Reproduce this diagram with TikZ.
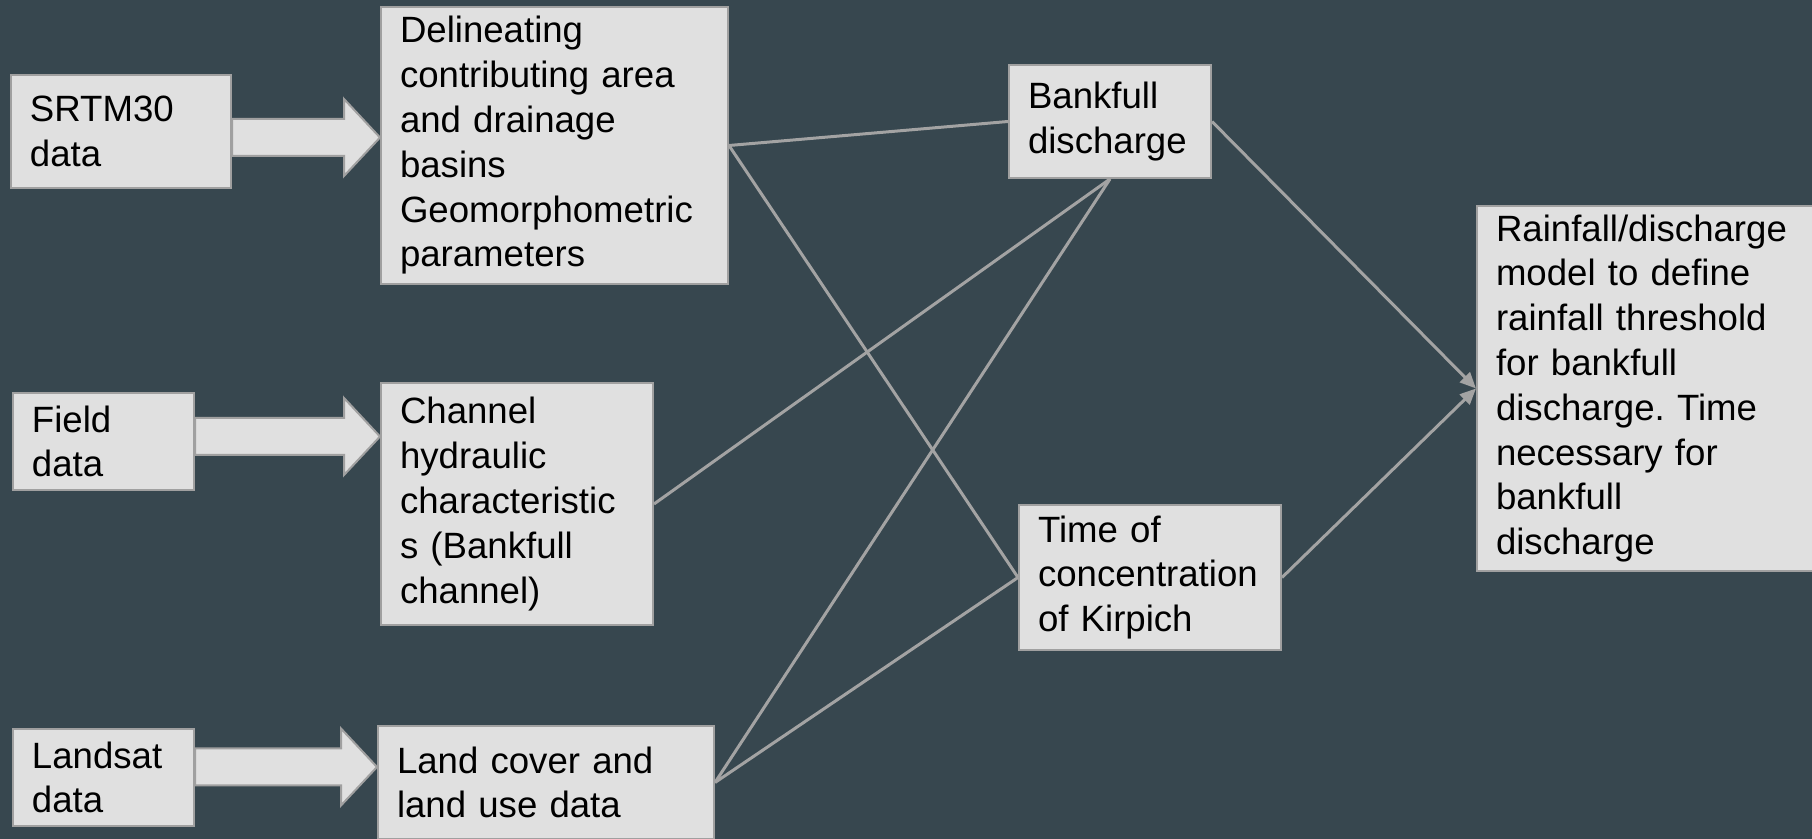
\documentclass[tikz,border=0pt]{standalone}
\usepackage{fontspec}
\setmainfont{Liberation Sans}
\usepackage{xcolor}
\usetikzlibrary{positioning,arrows.meta,calc}
\definecolor{slateBg}{RGB}{55, 71, 79}
\definecolor{boxFill}{RGB}{224, 224, 224}
\definecolor{boxBorder}{RGB}{160, 160, 160}
\definecolor{linkGray}{RGB}{163, 163, 163}
\frenchspacing

\begin{document}
\begin{tikzpicture}[
        x=0.5pt, y=-0.5pt,
        box/.style={rectangle, draw=boxBorder, line width=1pt, fill=boxFill, align=left, anchor=north west, inner xsep=9.5pt, inner ysep=0pt, font=\fontsize{18.3pt}{22.4pt}\selectfont},
        blockarrow/.style={draw=boxBorder, line width=1pt, fill=boxFill, line join=miter},
        link/.style={draw=linkGray, line width=1.5pt},
        arrow/.style={link, -{Triangle[length=8pt, width=7pt]}}
    ]

    % Fond
    \useasboundingbox (0,0) rectangle (1812,839);
    \fill[slateBg] (0,0) rectangle (1812,839);
    \clip (0,0) rectangle (1812,839);

    % Sources
    \node[box, text width=91pt, minimum height=56.5pt] (srtm) at (10,74) {SRTM30\\data};
    \node[box, text width=71.5pt, minimum height=48.5pt] (field) at (12,392) {Field\\data};
    \node[box, text width=71.5pt, minimum height=48.5pt] (landsat) at (12,728) {Landsat\\data};

    % Traitements
    \node[box, text width=154.5pt, minimum height=138.5pt] (delin) at (380,6) {Delineating\\contributing area\\and drainage\\basins\\Geomorphometric\\parameters};
    \node[box, text width=117pt, minimum height=121pt] (channel) at (380,382) {Channel\\hydraulic\\characteristic\\s (Bankfull\\channel)};
    \node[box, text width=149pt, minimum height=56.5pt] (landcov) at (377,725) {Land cover and\\land use data};

    % Grandeurs
    \node[box, text width=82pt, minimum height=56.5pt] (bankfull) at (1008,64) {Bankfull\\discharge};
    \node[box, text width=112pt, minimum height=72.5pt] (kirpich) at (1018,504) {Time of\\concentration\\of Kirpich};

    % Modele
    \node[box, text width=151pt, minimum height=182.5pt] (rainmodel) at (1476,205) {Rainfall/discharge\\model to define\\rainfall threshold\\for bankfull\\discharge. Time\\necessary for\\bankfull\\discharge};

    % Grosses fleches
    \foreach \src/\dst/\yy in {srtm/delin/137.5, field/channel/436.5, landsat/landcov/767}
        \draw[blockarrow] (\src.east |- 0,\yy-18.5) -- ($(\dst.west |- 0,\yy)+(-36,-18.5)$)
            -- ($(\dst.west |- 0,\yy)+(-36,-38.5)$) -- (\dst.west |- 0,\yy)
            -- ($(\dst.west |- 0,\yy)+(-36,38.5)$) -- ($(\dst.west |- 0,\yy)+(-36,18.5)$)
            -- (\src.east |- 0,\yy+18.5) -- cycle;

    % Liens
    \draw[link] (delin.east) -- (bankfull.west);
    \draw[link] (delin.east) -- (kirpich.west);
    \draw[link] (channel.east) -- (bankfull.south);
    \draw[link] (landcov.east) -- (bankfull.south);
    \draw[link] (landcov.east) -- (kirpich.west);
    \draw[arrow] (bankfull.east) -- (rainmodel.west);
    \draw[arrow] (kirpich.east) -- (rainmodel.west);

\end{tikzpicture}
\end{document}
